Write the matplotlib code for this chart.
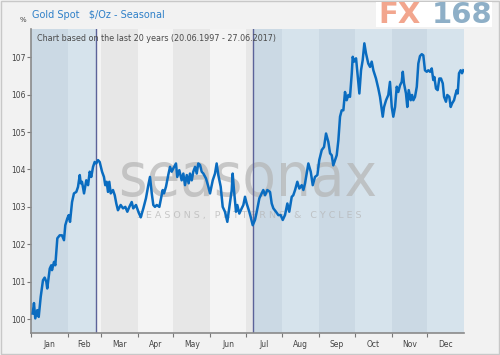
import numpy as np
import matplotlib.pyplot as plt
from matplotlib.patches import Rectangle

# seasonal curve: day of year and % value (start = 100)
days = [1.4, 2.5, 3.6, 5.3, 6.5, 8.2, 10.1, 11.5, 12.9, 13.7, 15.8, 17.1, 17.7, 19.4, 20.5,
        22.2, 24.2, 26.1, 27.8, 28.9, 30.6, 31.8, 32.9, 34.6, 36.2, 38.2, 39.6, 41.1, 41.9,
        43.0, 44.7, 46.6, 48.1, 49.5, 50.8, 52.3, 53.7, 55.0, 56.5, 57.9, 59.9, 61.5, 62.6,
        63.8, 64.9, 66.0, 67.2, 69.1, 70.6, 71.9, 73.3, 75.6, 77.6, 79.5, 81.2,
        82.9, 84.9, 86.2, 88.5, 90.5, 92.5, 94.7, 96.9, 98.9, 100.3, 101.8, 103.1, 104.5,
        106.0, 108.2, 109.3, 111.0, 112.1, 113.8, 115.7, 117.2, 118.6, 120.0, 122.2, 123.3,
        125.0, 127.0, 128.4, 129.8, 131.3, 132.9, 134.0, 135.5, 136.8, 138.3, 139.7, 141.0,
        142.5, 143.9, 145.3, 147.5, 149.5, 150.9,
        153.2, 155.1, 156.5, 157.9, 159.9, 161.6, 163.5, 165.5, 167.2, 169.2, 170.0, 171.1,
        172.8, 173.9, 175.6, 177.6, 179.0, 180.4, 181.8, 184.0, 185.2, 186.9, 188.8, 190.3,
        192.5, 194.5, 195.8, 197.3, 199.2, 201.5, 202.9, 204.3, 206.5, 208.5, 210.5, 212.2,
        214.1, 216.1, 217.7, 219.8, 221.1, 222.6, 224.5, 226.2, 228.2, 229.6, 231.0, 232.4,
        233.8, 235.8, 237.5, 239.4, 241.4, 243.0, 245.1, 247.0, 248.7, 250.6, 252.1, 253.5,
        254.8, 256.3, 257.7, 259.1, 260.5, 261.9, 263.3, 264.7, 266.1, 267.5, 268.9, 270.4,
        271.2, 272.3, 274.0, 275.1, 276.8, 278.2, 279.6, 281.0, 282.4, 284.3, 285.8, 287.2,
        288.6, 290.8, 292.8, 294.2, 296.5, 297.6, 299.3, 301.2, 302.6, 304.1, 305.4, 306.9,
        308.3, 309.6, 311.1, 312.5, 313.4, 314.4, 316.1, 317.2, 318.4, 320.1, 321.2, 322.3,
        323.7, 325.2, 326.5, 327.9, 329.4, 330.7, 332.1, 333.6, 334.9, 336.4, 337.8, 339.1,
        340.0, 341.4, 342.8, 344.2, 345.6, 347.1, 348.2, 349.8, 350.9, 352.6, 353.8, 354.9,
        356.6, 357.7, 358.9, 359.7, 360.8, 362.2, 363.3, 364.4]
values = [100.15, 100.43, 100.02, 100.24, 100.06, 100.60, 101.04, 101.11, 101.00, 100.82,
          101.35, 101.44, 101.31, 101.53, 101.44, 102.16, 102.24, 102.24, 102.11, 102.51,
          102.69, 102.78, 102.60, 103.13, 103.36, 103.40, 103.53, 103.85, 103.63, 103.67,
          103.36, 103.71, 103.58, 103.94, 103.80, 104.07, 104.20, 104.16, 104.25, 104.20,
          103.94, 103.80, 103.58, 103.67, 103.40, 103.67, 103.36, 103.45, 103.31, 103.09,
          102.91, 103.05, 102.96, 103.00, 102.87,
          103.00, 103.13, 102.96, 103.05, 102.87, 102.72, 102.96, 103.23, 103.58, 103.80,
          103.36, 103.05, 103.00, 103.05, 103.00, 103.18, 103.45, 103.36, 103.54, 103.85,
          104.07, 103.94, 104.03, 104.16, 103.80, 103.98, 103.71, 103.89, 103.58, 103.85,
          103.63, 103.89, 103.71, 103.94, 104.07, 103.89, 104.16, 104.12, 103.94, 103.89,
          103.76, 103.54, 103.36,
          103.71, 103.89, 104.16, 103.85, 103.54, 103.00, 102.87, 102.60, 103.00, 103.45,
          103.89, 103.45, 102.87, 103.05, 102.82, 102.96, 103.05, 103.27, 103.09, 102.87,
          102.73, 102.51, 102.65, 102.87, 103.23, 103.36, 103.45, 103.31, 103.45, 103.40,
          103.09, 102.96, 102.87, 102.78, 102.78, 102.65, 102.78, 103.09, 102.87, 103.27,
          103.31, 103.45, 103.67, 103.49, 103.58, 103.45, 103.63, 103.89, 104.16, 103.94,
          103.58, 103.80, 103.85, 104.25, 104.52, 104.60, 104.96, 104.74, 104.43, 104.38,
          104.11, 104.25, 104.38, 104.78, 105.41, 105.58, 105.58, 106.07, 105.85, 105.99,
          105.94, 106.57, 107.01, 106.88, 106.97, 106.61, 106.03, 106.65, 106.92, 107.37,
          107.10, 106.83, 106.74, 106.88, 106.65, 106.43, 106.16, 105.94, 105.41, 105.67,
          105.85, 105.99, 106.34, 105.67, 105.41, 105.67, 106.21, 106.07, 106.25, 106.34,
          106.61, 106.30, 106.03, 105.67, 106.12, 105.85, 105.99, 105.85, 105.94, 106.21,
          106.83, 107.03, 107.08, 107.05, 106.65, 106.61, 106.65, 106.61, 106.70, 106.39,
          106.47, 106.16, 106.12, 106.43, 106.43, 106.30, 105.94, 105.81, 105.99, 105.94,
          105.67, 105.76, 105.85, 105.99, 106.12, 106.03, 106.57, 106.65, 106.57, 106.65]

months = ['Jan', 'Feb', 'Mar', 'Apr', 'May', 'Jun', 'Jul', 'Aug', 'Sep', 'Oct', 'Nov', 'Dec']
month_starts = [0, 31, 59, 90, 120, 151, 181, 212, 243, 273, 304, 334, 365]
weak_start, weak_end = 55.2, 187.1   # 24 Feb - 6 Jul

fig = plt.figure(figsize=(5, 3.55), dpi=100, facecolor='#f2f2f2')
fig.patches.append(Rectangle((0.002, 0.003), 0.996, 0.994, transform=fig.transFigure,
                             fill=False, edgecolor='#c8c8c8', lw=1))
ax = fig.add_axes([0.062, 0.062, 0.866, 0.856])
ax.set_facecolor('#f4f4f4')

# month bands, blue outside the weak period, gray inside
for i in range(12):
    a, b = month_starts[i], month_starts[i + 1]
    dark = (i % 2 == 0)
    blue = '#cbd9e4' if dark else '#d6e3ec'
    grey = '#e7e7e7' if dark else '#f4f4f4'
    segs = [(a, min(b, weak_start), blue), (max(a, weak_start), min(b, weak_end), grey),
            (max(a, weak_end), b, blue)]
    for s, e, c in segs:
        if e > s:
            ax.axvspan(s, e, color=c, lw=0, zorder=0)

ax.axvline(weak_start, color='#5c6399', lw=1, zorder=2)
ax.axvline(weak_end, color='#5c6399', lw=1, zorder=2)

# watermark
ax.text(0.5, 0.452, 'seasonax', transform=ax.transAxes, fontsize=44, fontstretch='condensed',
        color='#b4b4b4', alpha=0.7, ha='center', va='baseline', zorder=1)
ax.text(0.505, 0.385, 'S E A S O N S ,   P A T T E R N S   &   C Y C L E S', transform=ax.transAxes,
        fontsize=6.8, color='#b4b4b4', alpha=0.7, ha='center', va='center', zorder=1)

ax.plot(days, values, color='#0a6cc0', lw=1.8, zorder=3)

ax.set_xlim(0, 365)
ax.set_ylim(99.63, 107.75)
ax.set_yticks(range(100, 108))
ax.set_yticklabels([str(v) for v in range(100, 108)])
ax.set_xticks(month_starts[:-1])
ax.set_xticklabels([])
mids = [(month_starts[i] + month_starts[i + 1]) / 2 for i in range(12)]
ax.set_xticks(mids, minor=True)
ax.set_xticklabels(months, minor=True)
ax.tick_params(axis='x', which='minor', length=0, pad=5, labelsize=5.5, labelcolor='#444444')
ax.tick_params(axis='x', which='major', length=3, color='#777777')
ax.tick_params(axis='y', length=3, color='#777777', labelsize=5.5, labelcolor='#444444', pad=1)
for side in ['top', 'right']:
    ax.spines[side].set_visible(False)
for side in ['left', 'bottom']:
    ax.spines[side].set_color('#8a8a8a')
    ax.spines[side].set_linewidth(1.2)

ax.text(0.015, 0.985, 'Chart based on the last 20 years (20.06.1997 - 27.06.2017)',
        transform=ax.transAxes, fontsize=5.8, color='#4a4a4a', ha='left', va='top', zorder=4)

fig.text(0.064, 0.957, 'Gold Spot   $/Oz - Seasonal', fontsize=7, color='#2f80c8',
         ha='left', va='center')
fig.text(0.046, 0.944, '%', fontsize=5, color='#444444', ha='center', va='center')

# FX168 logo
fig.patches.append(Rectangle((0.752, 0.925), 0.232, 0.07, transform=fig.transFigure,
                             facecolor='white', edgecolor='none'))
fig.text(0.756, 0.958, 'FX', fontsize=21, fontweight='bold', fontstretch='expanded',
         color='#f2a68e', ha='left', va='center')
fig.text(0.864, 0.958, '168', fontsize=21, fontweight='bold', color='#8eafc7',
         ha='left', va='center')

fig.savefig('out.png', dpi=100, facecolor=fig.get_facecolor())
